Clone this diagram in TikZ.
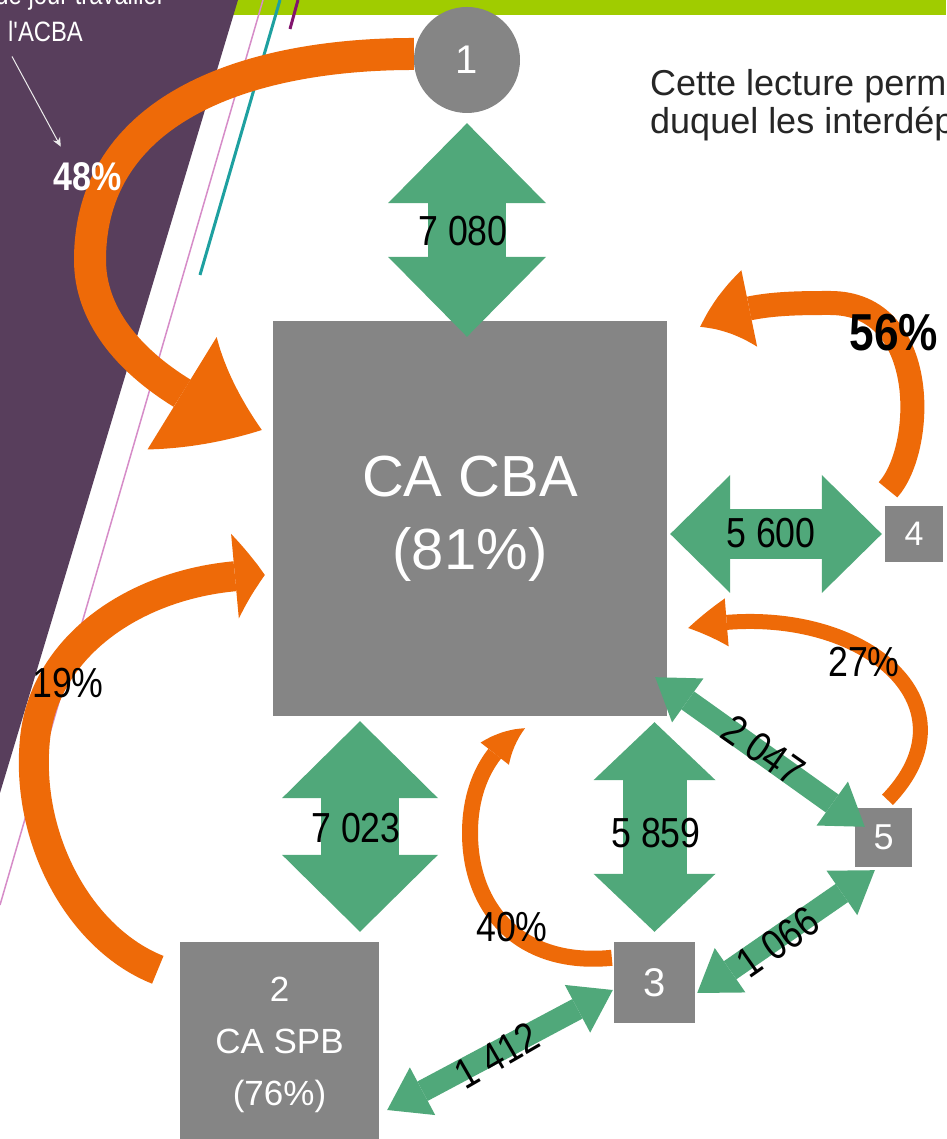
\documentclass[tikz,border=0pt]{standalone}
\usepackage{fontspec}
\setmainfont{Liberation Sans}
\newfontfamily\narrowfont[FakeStretch=0.85]{Liberation Sans}
\usetikzlibrary{arrows.meta,bending}

\definecolor{slidegreen}{RGB}{160,204,0}
\definecolor{slidepurple}{RGB}{88,62,92}
\definecolor{boxgray}{RGB}{133,133,133}
\definecolor{flowgreen}{RGB}{80,168,122}
\definecolor{looporange}{RGB}{238,106,8}
\definecolor{linepink}{RGB}{214,140,200}
\definecolor{lineteal}{RGB}{30,160,160}
\definecolor{lineplum}{RGB}{130,20,110}

\tikzset{
  box/.style={fill=boxgray, text=white, inner sep=0pt, align=center},
  num/.style={font=\narrowfont\fontsize{42}{48}\selectfont, inner sep=0pt},
  exchange/.style n args={3}{draw=flowgreen, line width=#1,
    arrows={Triangle[length=#2,width=#3,line width=0pt]-Triangle[length=#2,width=#3,line width=0pt]}},
  inflow/.style n args={3}{draw=looporange, line width=#1,
    arrows={-Triangle[length=#2,width=#3,line width=0pt,bend]}},
}

\begin{document}
\begin{tikzpicture}[x=1pt,y=1pt]
	\useasboundingbox (0,0) rectangle (946,1139);
	\fill[white] (0,0) rectangle (946,1139);
	\fill[slidegreen] (200,1124) rectangle (946,1139);
	\fill[slidepurple] (0,1139) -- (238,1139) -- (0,346) -- cycle;
	\draw[linepink, line width=1.5pt] (263,1139) -- (0,234);
	\draw[lineteal, line width=3pt] (280,1139) -- (200,864);
	\draw[lineplum, line width=3pt] (298,1139) -- (290,1110);

	\node[anchor=base east, text=white, inner sep=0pt, font=\narrowfont\fontsize{28}{32}\selectfont] (note1) at (165,1134) {de jour travailler};
	\node[anchor=base west, text=white, inner sep=0pt, font=\narrowfont\fontsize{28}{32}\selectfont] (note2) at (8,1097) {l'ACBA};

	\node[anchor=base west, text=black!85, inner sep=0pt, font=\fontsize{36}{40}\selectfont] (intro1) at (650,1043) {Cette lecture perm};
	\node[anchor=base west, text=black!85, inner sep=0pt, font=\fontsize{36}{40}\selectfont] (intro2) at (650,1005) {duquel les interdép};

	\node[box, circle, minimum size=106pt, font=\fontsize{40}{40}\selectfont] (n1) at (467,1079) {1};
	\node[box, minimum width=394pt, minimum height=395pt, font=\fontsize{58}{73}\selectfont] (cba) at (470,620.5) {CA CBA\\(81\%)};
	\node[box, minimum width=199pt, minimum height=206pt, font=\fontsize{35}{52}\selectfont] (n2) at (279.5,94) {2\\CA SPB\\(76\%)};
	\foreach \n/\x/\y/\w/\h/\s in {3/654.5/156.5/81/81/40, 4/914/605/58/56/34, 5/883.5/301.5/57/59/36}
	{
		\node[box, minimum width=\w pt, minimum height=\h pt, font=\fontsize{\s}{\s}\selectfont] (n\n) at (\x,\y) {\n};
	}

	\draw[exchange={78pt}{80pt}{158pt}] ([yshift=-10pt]n1.south) -- ([shift={(-3,-16)}]cba.north);
	\draw[exchange={78pt}{77pt}{156pt}] ([shift={(-110,-5)}]cba.south) -- ([shift={(80.5,10)}]n2.north);
	\draw[exchange={64pt}{58pt}{122pt}] ([shift={(184.5,-6)}]cba.south) -- ([yshift=10pt]n3.north);
	\draw[exchange={50pt}{60pt}{118pt}] ([shift={(3,-15.5)}]cba.east) -- ([xshift=-3pt]n4.west);
	\draw[exchange={22pt}{40pt}{54pt}] ([shift={(-12,39)}]cba.south east) -- ([shift={(10,-19)}]n5.north west);
	\draw[exchange={22pt}{40pt}{54pt}] ([shift={(2,-10.5)}]n3.east) -- ([shift={(20,-3)}]n5.south west);
	\draw[exchange={22pt}{40pt}{54pt}] ([shift={(-1,-7.5)}]n3.west) -- ([shift={(8,-65)}]n2.east);

	\draw[inflow={32pt}{90pt}{132pt}] ([yshift=6pt]n1.west) .. controls (244,1085) and (90,1029) .. (90,879)
		.. controls (90,800) and (170,740) .. ([shift={(-11,88.5)}]cba.west);
	\draw[inflow={24pt}{55pt}{78pt}] ([shift={(-26,16)}]n4.north) .. controls (925,690) and (930,836) .. (830,836)
		.. controls (780,836) and (740,835) .. ([shift={(33,-6)}]cba.north east);
	\draw[inflow={15pt}{40pt}{48pt}] ([shift={(4,8)}]n5.north) .. controls (985,440) and (850,545) .. ([shift={(21,-109.5)}]cba.east);
	\draw[inflow={16pt}{38pt}{36pt}] ([shift={(-2,-16)}]n3.north west) .. controls (520,172) and (470,230) .. (470,306)
		.. controls (470,360) and (495,395) .. ([shift={(55,-12)}]cba.south);
	\draw[inflow={30pt}{30pt}{85pt}] ([shift={(-22,-28)}]n2.north west) .. controls (80,200) and (25,300) .. (35,400)
		.. controls (45,500) and (150,565) .. ([shift={(-8,-56.5)}]cba.west);

	\node[num] (v7080) at (463,908) {7 080};
	\node[num] (v5600) at (771,606) {5 600};
	\node[num] (v7023) at (356,311) {7 023};
	\node[num] (v5859) at (656,306) {5 859};
	\node[num, rotate=-35] (v2047) at (763,389) {2 047};
	\node[num, rotate=35] (v1066) at (778,197) {1 066};
	\node[num, rotate=30] (v1412) at (497,84) {1 412};
	\node[num] (p27) at (864,477) {27\%};
	\node[num] (p19) at (68,456) {19\%};
	\node[num] (p40) at (512,212) {40\%};
	\node[num, font=\narrowfont\bfseries\fontsize{52}{52}\selectfont] (p56) at (894,806) {56\%};
	\node[num, text=white, font=\narrowfont\bfseries\fontsize{40}{40}\selectfont] (p48) at (88,962) {48\%};

	\draw[white!85!gray, line width=1pt, -{Stealth[length=9pt,width=8pt]}] ([shift={(4,-14)}]note2.south west) -- ([shift={(7,16)}]p48.north west);
\end{tikzpicture}
\end{document}
